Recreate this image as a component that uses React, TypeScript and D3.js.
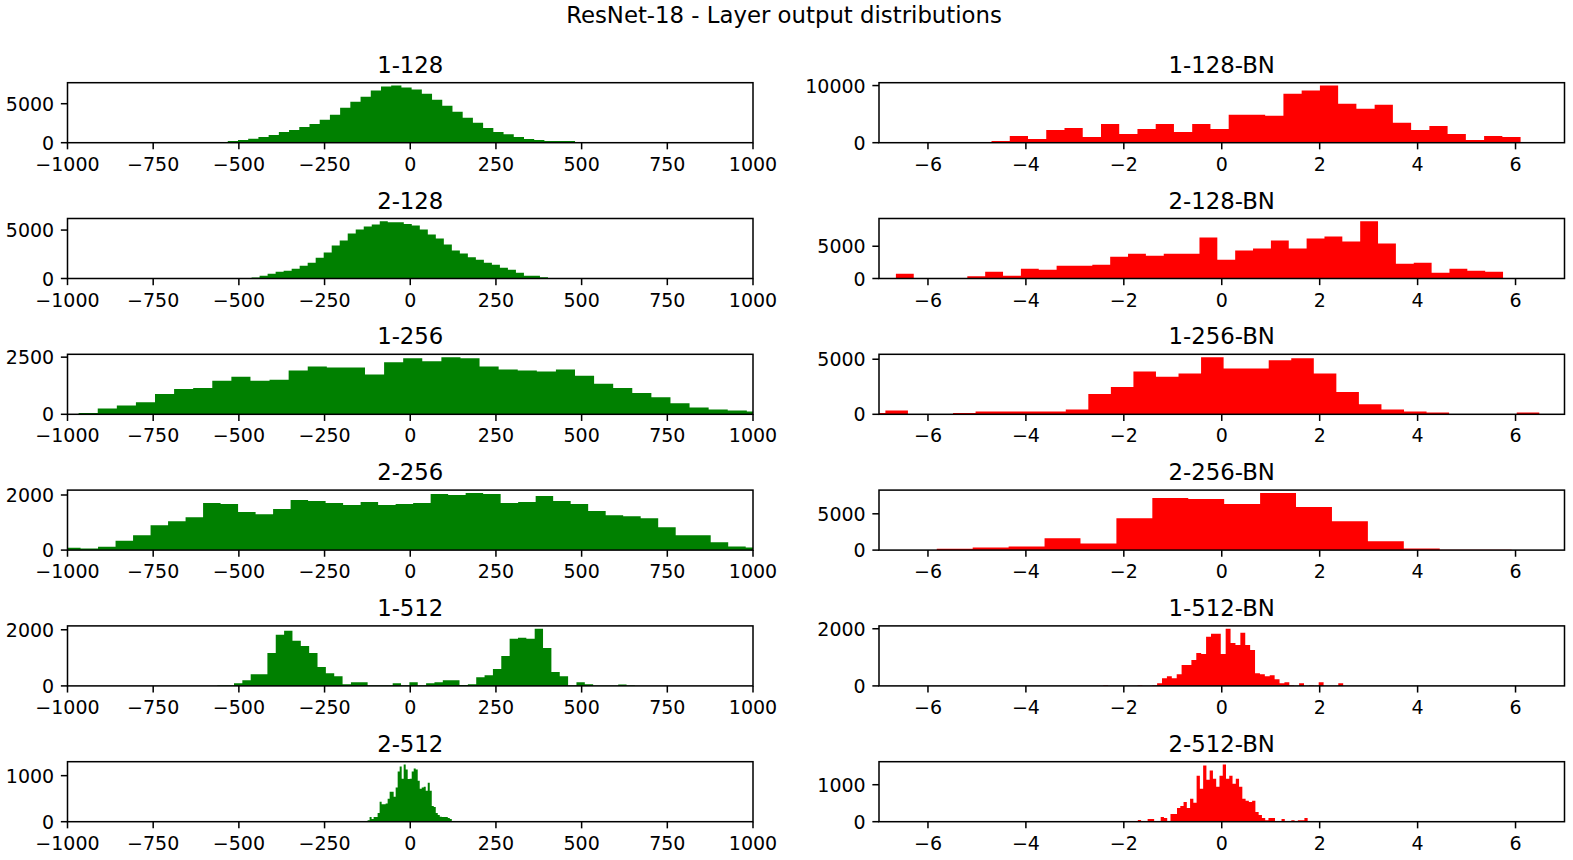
import React from 'react';
import * as d3 from 'd3';

const W = 1573;
const H = 860;
const FONT = 'DejaVu Sans, Verdana, sans-serif';
const PT = 1.9; // px per point
const FS_TICK = 10 * PT;
const FS_TITLE = 12 * PT;

const COL_X = [67.5, 879];
const AX_W = 685.5;
const ROW_TOP = 82.7;
const ROW_STEP = 135.8;
const AX_H = 60;

const LEFT_X_TICKS = [-1000, -750, -500, -250, 0, 250, 500, 750, 1000];
const RIGHT_X_TICKS = [-6, -4, -2, 0, 2, 4, 6];
const LEFT_DOMAIN: [number, number] = [-1000, 1000];
const RIGHT_DOMAIN: [number, number] = [-7, 7];

// histogram counts
const counts_1_128 = [15, 40, 215, 345, 517, 733, 991, 1379, 1638, 2026, 2414, 2931, 3578, 4483, 5259, 5905, 6681, 7198, 7328, 7069, 6810, 6293, 5517, 4741, 3966, 3190, 2543, 1897, 1379, 1078, 733, 474, 345, 215, 215, 215, 40, 25, 15, 10];
const counts_2_128 = [15, 25, 35, 104, 278, 486, 694, 798, 1006, 1319, 1631, 2151, 2672, 3401, 3921, 4650, 5066, 5379, 5587, 5899, 5795, 5795, 5621, 5483, 5066, 4546, 4130, 3505, 2880, 2568, 2186, 1943, 1631, 1423, 1110, 902, 590, 278, 278, 139, 50, 30, 20, 15, 10, 5];
const counts_1_256 = [60, 254, 389, 524, 883, 1108, 1153, 1467, 1647, 1467, 1512, 1916, 2096, 2051, 2051, 1737, 2275, 2455, 2320, 2500, 2455, 2096, 1961, 1916, 1871, 1961, 1692, 1332, 1153, 928, 749, 479, 299, 210, 165, 120];
const counts_2_256 = [85, 61, 122, 342, 537, 903, 1049, 1196, 1708, 1671, 1379, 1305, 1488, 1818, 1781, 1708, 1635, 1745, 1635, 1671, 1708, 2037, 2001, 2074, 2037, 1708, 1745, 1964, 1781, 1671, 1415, 1269, 1232, 1159, 830, 537, 537, 281, 134, 98];
const counts_1_512 = [10, 12, 96, 204, 419, 419, 1174, 1821, 1965, 1605, 1426, 1174, 671, 455, 347, 60, 132, 132, 15, 15, 15, 96, 10, 132, 10, 96, 132, 204, 204, 36, 60, 311, 383, 599, 1066, 1677, 1713, 1677, 2036, 1354, 491, 347, 10, 132, 60, 5, 5, 5, 48, 15];
const counts_2_512 = [3, 5, 5, 30, 102, 58, 102, 102, 190, 431, 380, 380, 394, 496, 650, 650, 540, 745, 1088, 1197, 935, 1241, 1131, 927, 935, 1088, 1153, 1131, 890, 715, 745, 759, 672, 847, 672, 343, 321, 190, 146, 110, 102, 102, 102, 80, 58, 15, 8, 5];

const counts_1_128_bn = [60, 60, 60, 294, 1176, 647, 2234, 2587, 1000, 3293, 1529, 2411, 3293, 1882, 3293, 2411, 4881, 4881, 4705, 8586, 9116, 10000, 6822, 5940, 6645, 3470, 2234, 2940, 1529, 470, 1176, 1000, 60, 60];
const counts_2_128_bn = [729, 0, 0, 0, 365, 1042, 417, 1511, 1355, 1980, 1980, 2136, 3387, 3855, 3543, 3855, 3855, 6356, 2918, 4324, 4637, 5887, 4637, 6200, 6512, 5731, 8857, 5418, 2292, 2449, 886, 1511, 1198, 1042];
const counts_1_256_bn = [124, 342, 0, 0, 124, 248, 248, 248, 248, 435, 1833, 2485, 3883, 3417, 3696, 5187, 4162, 4162, 4907, 5094, 3696, 2019, 901, 435, 248, 155, 0, 0, 0, 155];
const counts_2_256_bn = [185, 370, 509, 1620, 926, 4398, 7176, 7037, 6343, 7871, 5926, 3981, 1204, 231, 46, 46, 30];
const counts_1_512_bn = [10, 0, 0, 0, 0, 0, 0, 10, 0, 0, 10, 94, 270, 341, 270, 412, 729, 729, 906, 1152, 1117, 1717, 1823, 1823, 1117, 2000, 1505, 1435, 1858, 1435, 1258, 447, 412, 341, 376, 235, 94, 129, 10, 0, 94, 0, 10, 0, 129, 0, 0, 0, 94];
const counts_2_512_bn = [45, 9, 18, 73, 73, 9, 9, 127, 100, 9, 209, 209, 373, 427, 536, 373, 618, 509, 1245, 891, 1518, 1136, 1382, 1164, 945, 1245, 1545, 1164, 1245, 1027, 1164, 945, 618, 564, 536, 564, 264, 182, 100, 36, 100, 100, 9, 9, 73, 9, 9, 36, 9, 36, 36, 100];

// first bin edge and bin width for each histogram
const LEFT_BIN_START = [-592, -533, -967.5, -1013, -563, -142];
const LEFT_BIN_WIDTH = [29.8, 23.37, 55.7, 51.07, 24.37, 5.85];
const RIGHT_BIN_START = [-5.82, -6.655, -7.33, -5.82, -2.42, -1.714];
const RIGHT_BIN_WIDTH = [0.3726, 0.3647, 0.4605, 0.7337, 0.1, 0.0667];

const LEFT_TITLES = ['1-128', '2-128', '1-256', '2-256', '1-512', '2-512'];
const RIGHT_TITLES = LEFT_TITLES.map((t) => `${t}-BN`);
const LEFT_Y_TICKS = [[0, 5000], [0, 5000], [0, 2500], [0, 2000], [0, 2000], [0, 1000]];
const RIGHT_Y_TICKS = [[0, 10000], [0, 5000], [0, 5000], [0, 5000], [0, 2000], [0, 1000]];

const LEFT_COUNTS = [counts_1_128, counts_2_128, counts_1_256, counts_2_256, counts_1_512, counts_2_512];
const RIGHT_COUNTS = [counts_1_128_bn, counts_2_128_bn, counts_1_256_bn, counts_2_256_bn, counts_1_512_bn, counts_2_512_bn];

interface Panel {
  id: string;
  title: string;
  col: number;
  row: number;
  counts: number[];
  start: number;
  width: number;
  yTicks: number[];
  xTicks: number[];
  domain: [number, number];
  color: string;
}

const panels: Panel[] = [];
LEFT_TITLES.forEach((t, i) => {
  panels.push({
    id: `l${i}`, title: t, col: 0, row: i, counts: LEFT_COUNTS[i],
    start: LEFT_BIN_START[i], width: LEFT_BIN_WIDTH[i], yTicks: LEFT_Y_TICKS[i],
    xTicks: LEFT_X_TICKS, domain: LEFT_DOMAIN, color: '#008000',
  });
  panels.push({
    id: `r${i}`, title: RIGHT_TITLES[i], col: 1, row: i, counts: RIGHT_COUNTS[i],
    start: RIGHT_BIN_START[i], width: RIGHT_BIN_WIDTH[i], yTicks: RIGHT_Y_TICKS[i],
    xTicks: RIGHT_X_TICKS, domain: RIGHT_DOMAIN, color: '#ff0000',
  });
});

const fmt = d3.format('d');
const TICK = 3.5 * PT;
const PAD = 3.5 * PT;
const LW = 0.8 * PT;

function Hist({ p }: { p: Panel }) {
  const x = d3.scaleLinear().domain(p.domain).range([0, AX_W]);
  const yMax = d3.max(p.counts)! * 1.05;
  const y = d3.scaleLinear().domain([0, yMax]).range([AX_H, 0]);

  // step outline of the histogram: one point per bin edge
  const pts: [number, number][] = p.counts.map((c, i) => [p.start + i * p.width, c]);
  pts.push([p.start + p.counts.length * p.width, p.counts[p.counts.length - 1]]);
  const area = d3
    .area<[number, number]>()
    .x((d) => x(d[0]))
    .y0(AX_H)
    .y1((d) => y(d[1]))
    .curve(d3.curveStepAfter);

  const tx = COL_X[p.col];
  const ty = ROW_TOP + p.row * ROW_STEP;

  return (
    <g transform={`translate(${tx},${ty})`}>
      <defs>
        <clipPath id={`clip-${p.id}`}>
          <rect x={0} y={0} width={AX_W} height={AX_H} />
        </clipPath>
      </defs>
      <path d={area(pts) ?? ''} fill={p.color} clipPath={`url(#clip-${p.id})`} />
      <rect x={0} y={0} width={AX_W} height={AX_H} fill="none" stroke="#000" strokeWidth={LW} />

      {/* x axis */}
      {p.xTicks.map((t) => (
        <g key={t} transform={`translate(${x(t)},${AX_H})`}>
          <line y2={TICK} stroke="#000" strokeWidth={LW} />
          <text y={TICK + PAD + 0.76 * FS_TICK + 0.3} textAnchor="middle" fontSize={FS_TICK}>
            {fmt(t)}
          </text>
        </g>
      ))}

      {/* y axis */}
      {p.yTicks.map((t) => (
        <g key={t} transform={`translate(0,${y(t)})`}>
          <line x2={-TICK} stroke="#000" strokeWidth={LW} />
          <text x={-TICK - PAD} y={0.37 * FS_TICK} textAnchor="end" fontSize={FS_TICK}>
            {fmt(t)}
          </text>
        </g>
      ))}

      <text x={AX_W / 2} y={-6 * PT + 1.5} textAnchor="middle" fontSize={FS_TITLE}>
        {p.title}
      </text>
    </g>
  );
}

export default function App() {
  return (
    <svg
      width={W}
      height={H}
      viewBox={`0 0 ${W} ${H}`}
      style={{ position: 'absolute', left: 0, top: 0, background: '#fff' }}
      fontFamily={FONT}
    >
      <rect width={W} height={H} fill="#fff" />
      <text x={784} y={23} textAnchor="middle" fontSize={FS_TITLE}>
        ResNet-18 - Layer output distributions
      </text>
      {panels.map((p) => (
        <Hist key={p.id} p={p} />
      ))}
    </svg>
  );
}
